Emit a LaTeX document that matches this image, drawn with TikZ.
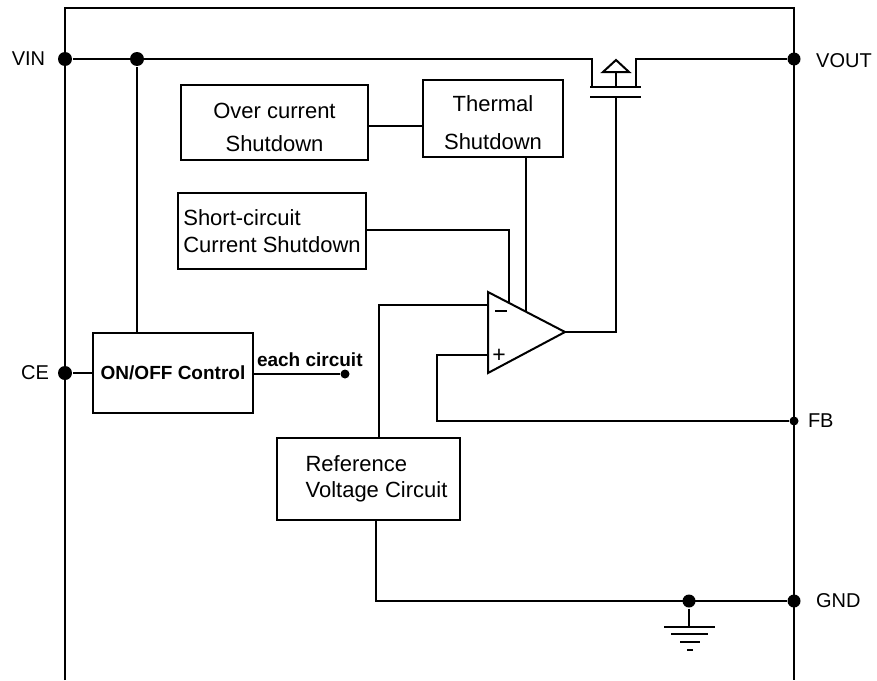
\documentclass[tikz,border=0pt]{standalone}
\usepackage{fontspec}
\setmainfont{Liberation Sans}
\begin{document}
\begin{tikzpicture}[x=1pt,y=-1pt,line width=2pt,
  box/.style={draw,line width=2pt,inner sep=0pt,font={\fontsize{22}{26}\selectfont}},
  pin/.style={font={\fontsize{20}{24}\selectfont},inner sep=0pt},
  bfont/.style={font={\bfseries\fontsize{19}{23}\selectfont},inner sep=0pt},
  dot/.style={circle,fill,inner sep=0pt,minimum size=#1},
  dot/.default=14pt]
\useasboundingbox (0,0) rectangle (877,680);
% frame
\draw (65,680) -- (65,8) -- (794,8) -- (794,680);
% pins
\node[dot] (vin) at (65,59) {};
\node[dot] (vinj) at (137,59) {};
\node[dot=13pt] (vout) at (794,59) {};
\node[dot] (ce) at (65,373) {};
\node[dot=9pt] (fb) at (794,421) {};
\node[dot=13pt] (gnd) at (794,601) {};
\node[pin] (lvin) at (28.5,59) {VIN};
\node[pin] (lvout) at (844,61) {VOUT};
\node[pin] (lce) at (35,373) {CE};
\node[pin,anchor=west] (lfb) at (807,421) {FB};
\node[pin,anchor=west] (lgnd) at (815,601) {GND};
% boxes
\node[box,minimum width=187pt,minimum height=75pt,align=center] (oc) at (274.5,122.5) {\rule{0pt}{25pt}Over current\\[7pt]Shutdown};
\node[box,minimum width=140pt,minimum height=77pt,align=center] (th) at (493,118.5) {\rule{0pt}{24pt}Thermal\\[12pt]Shutdown};
\node[box,minimum width=188pt,minimum height=76pt,align=left] (sc) at (272,231) {Short-circuit\\[1pt]Current Shutdown};
\node[box,minimum width=160pt,minimum height=80pt,font={\bfseries\fontsize{19}{23}\selectfont}] (onoff) at (173,373) {ON/OFF Control};
\node[box,minimum width=183pt,minimum height=82pt,align=left] (ref) at (368.5,479) {\hspace*{16pt}Reference\\\hspace*{16pt}Voltage Circuit};
% op amp
\coordinate (oa1) at (488,292);
\coordinate (oa2) at (488,373);
\coordinate (oaout) at (565,332);
\draw[line join=miter] (oa1) -- (oaout) -- (oa2) -- cycle;
\node[inner sep=0pt] (minus) at (501,311) {\rule{12pt}{2pt}};
\node[font={\fontsize{23}{24}\selectfont},inner sep=0pt] (plus) at (499,356) {+};
% MOSFET
\coordinate (ms) at (592,87);
\coordinate (md) at (636,87);
\coordinate (mg) at (616,97);
\draw (590,87) -- (641,87);
\draw (590,97) -- (641,97);
\draw[line join=miter] (616,60) -- (603,72) -- (629,72) -- cycle;
\draw (616,72) -- (616,87);
% connections
\draw (vin) -- (ms |- vin) -- (ms);
\draw (md) -- (md |- vout) -- (vout);
\draw (vinj) -- (vinj |- onoff.north);
\draw (ce) -- (onoff.west |- ce);
\node[dot=9pt] (each) at (345,374) {};
\draw (onoff.east |- each) -- (each);
\node[bfont,anchor=base west] (leach) at (256,366) {each circuit};
\draw (oc.east |- 0,126) -- (th.west |- 0,126);
\draw (th.south -| 526,0) -- (526,311.7);
\draw (sc.east |- 0,230) -- (509,230) -- (509,302.9);
\draw (488,305) -- (379,305) -- (379,438);
\draw (488,355) -- (437,355) -- (437,421) -- (fb);
\draw (mg) -- (616,332) -- (oaout);
\draw (376,520) -- (376,601) -- (gnd);
% ground
\node[circle,fill,inner sep=0pt,minimum size=13pt] (gj) at (689,601) {};
\draw (gj) -- (689,627);
\draw (664,627) -- (715,627);
\draw (671,634) -- (708,634);
\draw (680,642) -- (700,642);
\draw (687,650) -- (693,650);
\end{tikzpicture}
\end{document}
